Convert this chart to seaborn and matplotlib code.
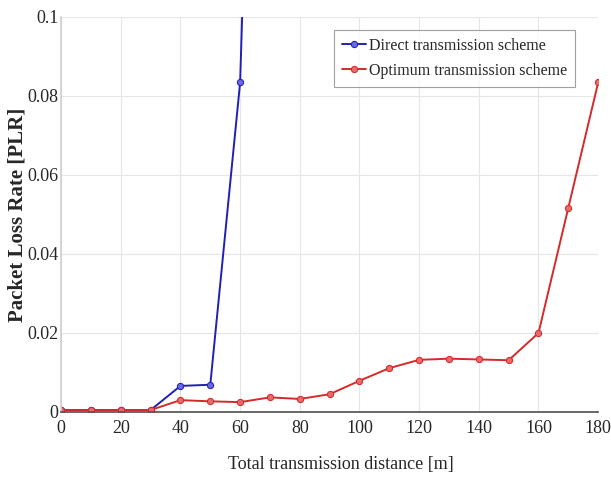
import pandas as pd
import matplotlib.pyplot as plt
import seaborn as sns
from matplotlib.ticker import FormatStrFormatter

# datos
distance = [0, 10, 20, 30, 40, 50, 60, 70, 80, 90, 100, 110, 120, 130, 140, 150, 160, 170, 180]
direct_dist = [0, 10, 20, 30, 40, 50, 60, 70]
direct_plr = [0.0005, 0.0005, 0.0005, 0.0005, 0.0066, 0.0069, 0.0834, 0.33]
optimum_plr = [0.0005, 0.0005, 0.0005, 0.0005, 0.0030, 0.0027, 0.0025, 0.0037, 0.0033, 0.0045,
               0.0079, 0.0111, 0.0132, 0.0135, 0.0133, 0.0131, 0.0200, 0.0517, 0.0834]

df_direct = pd.DataFrame({'dist': direct_dist, 'plr': direct_plr})
df_opt = pd.DataFrame({'dist': distance, 'plr': optimum_plr})

sns.set_theme(style="white")
plt.rcParams['font.family'] = ['Liberation Serif', 'DejaVu Serif']

fig = plt.figure(figsize=(6.11, 4.83), dpi=100)
ax = fig.add_axes([0.1, 0.147, 0.879, 0.818])

blue = '#2020b8'
red = '#d42a2a'
sns.lineplot(data=df_direct, x='dist', y='plr', ax=ax, color=blue, marker='o', markersize=4.5,
             markeredgecolor=blue, markerfacecolor='#6a6ae0', linewidth=1.4,
             label='Direct transmission scheme')
sns.lineplot(data=df_opt, x='dist', y='plr', ax=ax, color=red, marker='o', markersize=4.5,
             markeredgecolor=red, markerfacecolor='#e86a6a', linewidth=1.4,
             label='Optimum transmission scheme')

ax.set_xlim(0, 180)
ax.set_ylim(0, 0.1)
ax.set_xticks(range(0, 181, 20))
ax.set_yticks([0, 0.02, 0.04, 0.06, 0.08, 0.1])
ax.yaxis.set_major_formatter(FormatStrFormatter('%g'))
ax.grid(True, color='#e6e6e6', linewidth=0.8)

for s in ['top', 'right']:
    ax.spines[s].set_visible(False)
ax.spines['left'].set_color('#d0d0d0')
ax.spines['bottom'].set_color('#555555')
ax.tick_params(axis='x', direction='in', length=4, color='#555555', labelsize=13, pad=6)
ax.tick_params(axis='y', length=0, labelsize=13, pad=2)

ax.set_xlabel('Total transmission distance [m]', fontsize=13)
ax.xaxis.set_label_coords(0.52, -0.112)
ax.set_ylabel('Packet Loss Rate [PLR]', fontsize=15, fontweight='semibold')
ax.yaxis.set_label_coords(-0.062, 0.5)

leg = ax.legend(loc='upper right', fontsize=11.5, frameon=True, fancybox=False,
                edgecolor='#888888', handlelength=1.5, handletextpad=0.2,
                borderpad=0.5, labelspacing=0.55, bbox_to_anchor=(0.972, 0.987))
leg.get_frame().set_linewidth(0.8)

plt.savefig('out.png', dpi=100)
